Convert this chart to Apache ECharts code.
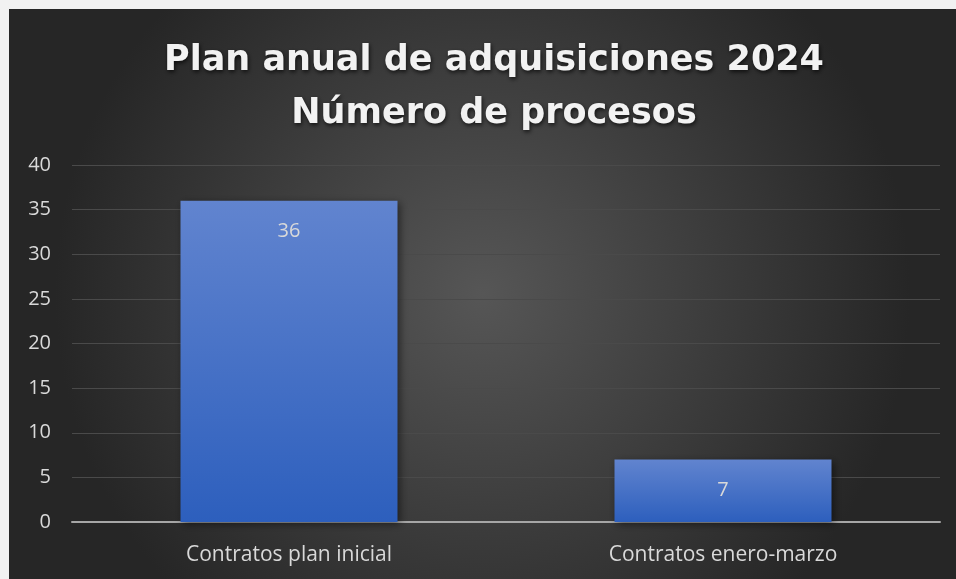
<!DOCTYPE html>
<html>
<head>
<meta charset="utf-8">
<script src="https://cdn.jsdelivr.net/npm/echarts@6/dist/echarts.min.js"></script>
<style>
  html, body { margin: 0; padding: 0; background: #f1f1f1; width: 956px; height: 579px; overflow: hidden; }
  #chart { position: absolute; left: 9px; top: 9px; width: 947px; height: 570px; }
</style>
</head>
<body>
<div id="chart"></div>
<script>
const categories = ["Contratos plan inicial", "Contratos enero-marzo"];
const values = [36, 7];
const titleLines = ["Plan anual de adquisiciones 2024", "Número de procesos"];

const chart = echarts.init(document.getElementById("chart"));
chart.setOption({
  backgroundColor: {
    type: "radial", x: 0.5, y: 0.5, r: 0.75,
    colorStops: [
      { offset: 0, color: "#565656" },
      { offset: 1, color: "#262626" },
    ],
  },
  title: {
    text: titleLines.join("\n"),
    left: 480,
    textAlign: "center",
    top: 20,
    textStyle: {
      color: "#f2f2f2",
      fontFamily: "DejaVu Sans",
      fontWeight: "bold",
      fontSize: 35,
      lineHeight: 53,
      textShadowColor: "rgba(0,0,0,0.7)",
      textShadowBlur: 4,
      textShadowOffsetX: 1,
      textShadowOffsetY: 2,
    },
  },
  grid: { left: 63, right: 16, top: 156, bottom: 57 },
  xAxis: {
    type: "category",
    data: categories,
    axisLine: { lineStyle: { color: "#a6a6a6", width: 2 } },
    axisTick: { show: false },
    axisLabel: { color: "#d9d9d9", fontFamily: "Open Sans", fontSize: 21, margin: 23 },
  },
  yAxis: {
    type: "value",
    min: 0,
    max: 40,
    interval: 5,
    axisLine: { show: false },
    axisTick: { show: false },
    axisLabel: { color: "#d9d9d9", fontFamily: "Open Sans", fontSize: 20, margin: 21 },
    splitLine: { lineStyle: { color: "#4a4a4a", width: 1 } },
  },
  series: [{
    type: "bar",
    data: values,
    barWidth: "50%",
    itemStyle: {
      color: {
        type: "linear", x: 0, y: 0, x2: 0, y2: 1,
        colorStops: [
          { offset: 0, color: "#6184cf" },
          { offset: 1, color: "#2d5fbd" },
        ],
      },
      shadowColor: "rgba(0,0,0,0.5)",
      shadowBlur: 8,
      shadowOffsetX: 2,
      shadowOffsetY: 2,
    },
    label: {
      show: true,
      position: "insideTop",
      distance: 21,
      color: "#d9d9d9",
      fontFamily: "Open Sans",
      fontSize: 20,
    },
  }],
});
</script>
</body>
</html>
